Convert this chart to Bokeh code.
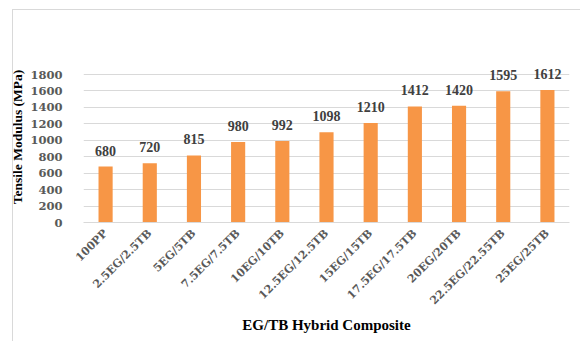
import math
from bokeh.plotting import figure
from bokeh.models import ColumnDataSource, LabelSet, FixedTicker, Range1d, InlineStyleSheet
from bokeh.embed import file_html
from bokeh.resources import INLINE

categories = ["100PP", "2.5EG/2.5TB", "5EG/5TB", "7.5EG/7.5TB", "10EG/10TB",
              "12.5EG/12.5TB", "15EG/15TB", "17.5EG/17.5TB", "20EG/20TB",
              "22.5EG/22.55TB", "25EG/25TB"]
modulus = [680, 720, 815, 980, 992, 1098, 1210, 1412, 1420, 1595, 1612]
y_ticks = [0, 200, 400, 600, 800, 1000, 1200, 1400, 1600, 1800]

src = ColumnDataSource(dict(cat=categories, val=modulus, lab=[str(v) for v in modulus]))

p = figure(x_range=categories, width=580, height=341, output_backend="svg",
           toolbar_location=None, min_border_left=83, min_border_right=11,
           min_border_top=51, min_border_bottom=119)
p.y_range = Range1d(0, 2080)
p.vbar(x="cat", top="val", width=0.32, source=src, color="#F79646", line_color=None)

labels = LabelSet(x="cat", y="val", text="lab", source=src, text_align="center",
                  text_baseline="alphabetic", y_offset=11, text_font="DejaVu Serif",
                  text_font_style="bold", text_font_size="14px", text_color="#404040")
p.add_layout(labels)

p.outline_line_color = None
p.xgrid.grid_line_color = None
p.ygrid.grid_line_color = "#d9d9d9"
p.ygrid.ticker = FixedTicker(ticks=y_ticks)
p.yaxis.ticker = FixedTicker(ticks=y_ticks)

p.yaxis.axis_line_color = None
p.yaxis.major_tick_line_color = None
p.yaxis.minor_tick_line_color = None
p.yaxis.major_label_standoff = 15
p.yaxis.major_label_text_font = "DejaVu Serif"
p.yaxis.major_label_text_font_style = "bold"
p.yaxis.major_label_text_font_size = "11.5px"
p.yaxis.major_label_text_color = "#595959"
p.yaxis.axis_label = "Tensile Modulus (MPa)"
p.yaxis.axis_label_text_font = "Liberation Serif"
p.yaxis.axis_label_text_font_style = "bold"
p.yaxis.axis_label_text_font_size = "13.5px"
p.yaxis.axis_label_text_color = "#000000"
p.yaxis.axis_label_standoff = 2

p.xaxis.axis_line_color = "#d9d9d9"
p.xaxis.major_tick_line_color = None
p.xaxis.minor_tick_line_color = None
p.xaxis.major_label_orientation = math.pi / 4
p.xaxis.major_label_standoff = 3
p.xaxis.major_label_text_font = "DejaVu Serif"
p.xaxis.major_label_text_font_style = "bold"
p.xaxis.major_label_text_font_size = "11px"
p.xaxis.major_label_text_color = "#595959"
p.xaxis.axis_label = "EG/TB Hybrid Composite"
p.xaxis.axis_label_text_font = "Liberation Serif"
p.xaxis.axis_label_text_font_style = "bold"
p.xaxis.axis_label_text_font_size = "15px"
p.xaxis.axis_label_text_color = "#000000"
p.xaxis.axis_label_standoff = 2

p.stylesheets = [InlineStyleSheet(css=(
    ":host::after { content: ''; position: absolute; left: 12px; top: 9px; "
    "width: 568px; height: 332px; box-sizing: border-box; "
    "border-left: 1.5px solid #d9d9d9; border-top: 1.5px solid #d9d9d9; "
    "pointer-events: none; }"
))]

open("out.html", "w").write(file_html(p, INLINE))
